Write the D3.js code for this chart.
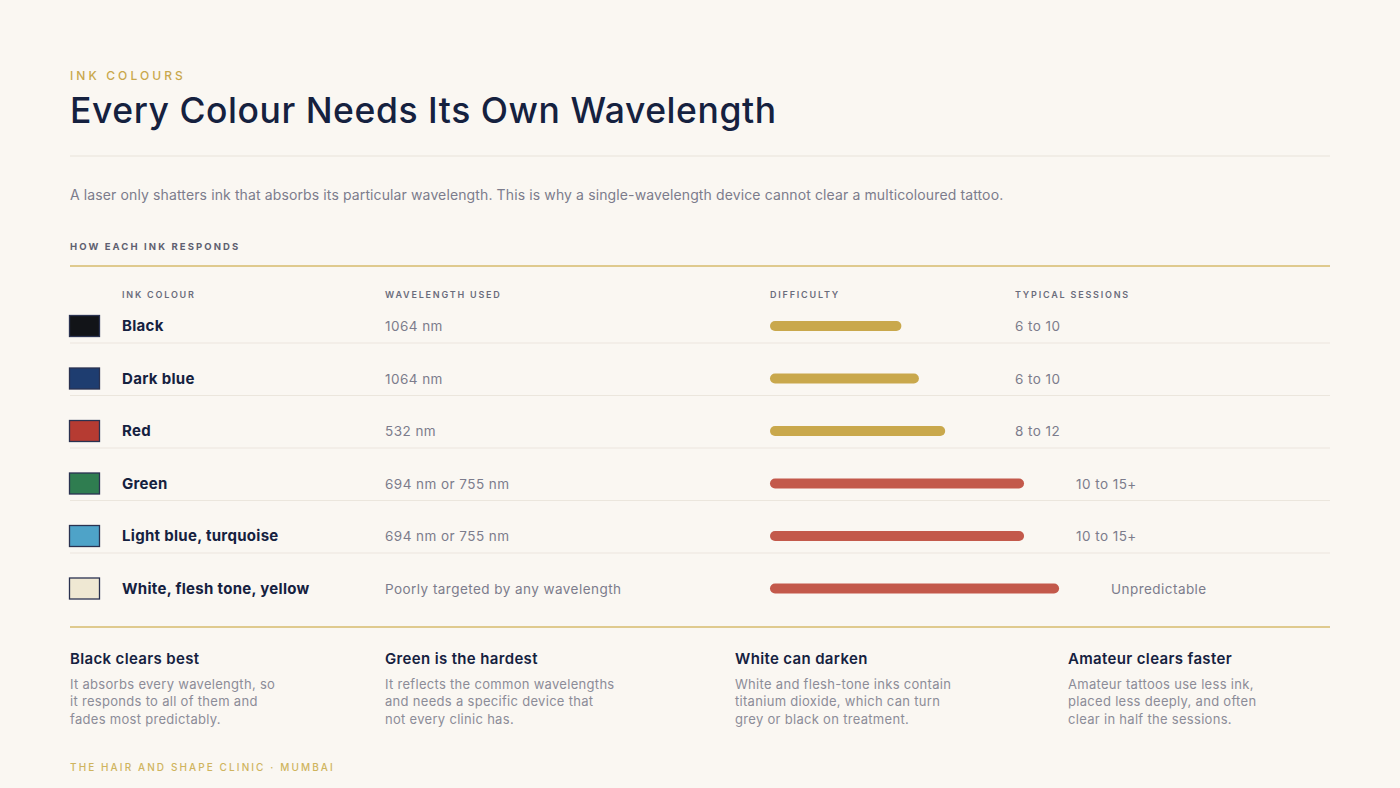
<!DOCTYPE html>
<html>
<head>
<meta charset="utf-8">
<script src="https://cdn.jsdelivr.net/npm/d3@7"></script>
<style>
  html, body { margin: 0; padding: 0; background: #faf7f2; }
  svg { display: block; font-family: "Inter", "Noto Sans", sans-serif; }
</style>
</head>
<body>
<div id="chart"></div>
<script>
// ---- data ----
var inks = ["Black", "Dark blue", "Red", "Green", "Light blue, turquoise", "White, flesh tone, yellow"];
var swatches = ["#121418", "#1e3d70", "#b63b32", "#2f7d50", "#4ea3c8", "#efe8d3"];
var wavelengths = ["1064 nm", "1064 nm", "532 nm", "694 nm or 755 nm", "694 nm or 755 nm", "Poorly targeted by any wavelength"];
var difficulty = [45, 51, 60, 87, 87, 99];          // share of the bar track, %
var hard = [false, false, false, true, true, true];
var sessions = ["6 to 10", "6 to 10", "8 to 12", "10 to 15+", "10 to 15+", "Unpredictable"];
var headers = ["INK COLOUR", "WAVELENGTH USED", "DIFFICULTY", "TYPICAL SESSIONS"];
var noteTitles = ["Black clears best", "Green is the hardest", "White can darken", "Amateur clears faster"];
var noteLines = [
  ["It absorbs every wavelength, so", "it responds to all of them and", "fades most predictably."],
  ["It reflects the common wavelengths", "and needs a specific device that", "not every clinic has."],
  ["White and flesh-tone inks contain", "titanium dioxide, which can turn", "grey or black on treatment."],
  ["Amateur tattoos use less ink,", "placed less deeply, and often", "clear in half the sessions."]
];

var W = 1400, H = 788;
var left = 70, right = 1330;
var navy = "#15213f", grey = "#7c7c8c", gold = "#c9a84c", rule = "#e8e3da";

var svg = d3.select("#chart").append("svg")
    .attr("width", W).attr("height", H);

svg.append("rect").attr("width", W).attr("height", H).attr("fill", "#faf7f2");

// ---- header ----
svg.append("text")
    .attr("x", left).attr("y", 80)
    .attr("fill", gold).style("font-size", "12px").style("font-weight", 500)
    .style("letter-spacing", "3.1px")
    .text("INK COLOURS");

svg.append("text")
    .attr("x", left).attr("y", 123)
    .attr("fill", navy).style("font-size", "35.5px").style("font-weight", 500)
    .style("letter-spacing", "0.55px")
    .text("Every Colour Needs Its Own Wavelength");

svg.append("line")
    .attr("x1", left).attr("x2", right).attr("y1", 156).attr("y2", 156)
    .attr("stroke", rule).attr("stroke-width", 1.2);

svg.append("text")
    .attr("x", left).attr("y", 200)
    .attr("fill", grey).style("font-size", "14px")
    .style("letter-spacing", "0.12px")
    .text("A laser only shatters ink that absorbs its particular wavelength. This is why a single-wavelength device cannot clear a multicoloured tattoo.");

svg.append("text")
    .attr("x", left).attr("y", 250)
    .attr("fill", "#5e6070").style("font-size", "9.5px").style("font-weight", 700)
    .style("letter-spacing", "2.1px")
    .text("HOW EACH INK RESPONDS");

svg.append("line")
    .attr("x1", left).attr("x2", right).attr("y1", 266).attr("y2", 266)
    .attr("stroke", "#d6bb6c").attr("stroke-width", 1.6);

// ---- table ----
var colX = [122, 385, 770, 1015];

svg.selectAll(".colhead").data(headers).enter().append("text")
    .attr("class", "colhead")
    .attr("x", function(d, i) { return colX[i]; })
    .attr("y", 297.5)
    .attr("fill", "#6a6c7c").style("font-size", "9px").style("font-weight", 600)
    .style("letter-spacing", "1.8px")
    .text(function(d) { return d; });

var y = d3.scaleBand().domain(inks).range([290.5, 605.5]);
var bar = d3.scaleLinear().domain([0, 100]).range([0, 292]);
var mid = function(d) { return y(d) + 35.5; };

var rows = svg.selectAll(".row").data(inks).enter().append("g").attr("class", "row");

rows.filter(function(d, i) { return i < inks.length - 1; }).append("line")
    .attr("x1", left).attr("x2", right)
    .attr("y1", function(d) { return y(d) + y.bandwidth(); })
    .attr("y2", function(d) { return y(d) + y.bandwidth(); })
    .attr("stroke", "#ebe6dd").attr("stroke-width", 1.2);

rows.append("rect")
    .attr("x", 69.5)
    .attr("y", function(d) { return mid(d) - 10.5; })
    .attr("width", 30).attr("height", 21)
    .attr("fill", function(d, i) { return swatches[i]; })
    .attr("stroke", "#2a3250").attr("stroke-width", 1.3);

rows.append("text")
    .attr("x", colX[0]).attr("y", function(d) { return mid(d) + 5; })
    .attr("fill", navy).style("font-size", "15px").style("font-weight", 650)
    .style("letter-spacing", "0.3px")
    .text(function(d) { return d; });

rows.append("text")
    .attr("x", colX[1]).attr("y", function(d) { return mid(d) + 5; })
    .attr("fill", grey).style("font-size", "13.5px")
    .style("letter-spacing", "0.45px")
    .text(function(d, i) { return wavelengths[i]; });

rows.append("rect")
    .attr("x", colX[2])
    .attr("y", function(d) { return mid(d) - 5; })
    .attr("height", 10).attr("rx", 5)
    .attr("width", function(d, i) { return bar(difficulty[i]); })
    .attr("fill", function(d, i) { return hard[i] ? "#c3594b" : "#c9a84c"; });

rows.append("text")
    .attr("x", function(d, i) { return Math.max(colX[3], colX[2] + bar(difficulty[i]) + 52); })
    .attr("y", function(d) { return mid(d) + 5; })
    .attr("fill", grey).style("font-size", "13.5px")
    .style("letter-spacing", "0.45px")
    .text(function(d, i) { return sessions[i]; });

svg.append("line")
    .attr("x1", left).attr("x2", right).attr("y1", 627).attr("y2", 627)
    .attr("stroke", "#d6bb6c").attr("stroke-width", 1.6);

// ---- notes ----
var noteX = [70, 385, 735, 1068];

var notes = svg.selectAll(".note").data(noteTitles).enter().append("g")
    .attr("class", "note")
    .attr("transform", function(d, i) { return "translate(" + noteX[i] + ",0)"; });

notes.append("text")
    .attr("y", 664)
    .attr("fill", navy).style("font-size", "15px").style("font-weight", 600)
    .style("letter-spacing", "0.35px")
    .text(function(d) { return d; });

notes.each(function(d, i) {
    d3.select(this).selectAll(".line").data(noteLines[i]).enter().append("text")
        .attr("class", "line")
        .attr("y", function(l, j) { return 688.5 + j * 17.5; })
        .attr("fill", "#8c8c98").style("font-size", "13px")
        .style("letter-spacing", "0.3px")
        .text(function(l) { return l; });
});

// ---- footer ----
svg.append("text")
    .attr("x", left).attr("y", 771)
    .attr("fill", "#cfb45e").style("font-size", "10px").style("font-weight", 500)
    .style("letter-spacing", "2.1px")
    .text("THE HAIR AND SHAPE CLINIC \u00b7 MUMBAI");
</script>
</body>
</html>
